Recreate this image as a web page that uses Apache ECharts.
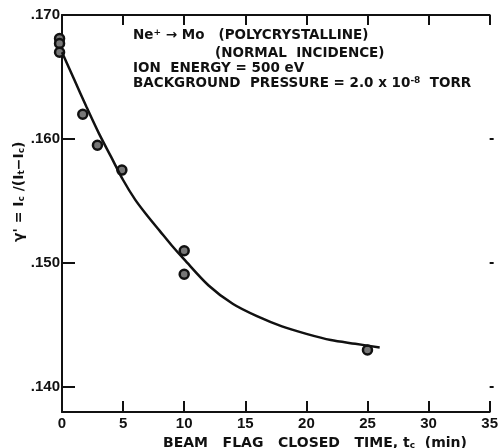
<!DOCTYPE html>
<html>
<head>
<meta charset="utf-8">
<script src="https://cdn.jsdelivr.net/npm/echarts@6/dist/echarts.min.js"></script>
<style>
html,body{margin:0;padding:0;background:#fff;}
#chart{width:501px;height:448px;}
</style>
</head>
<body>
<div id="chart"></div>
<script>
// measured points (t in min, gamma')
var pointT = [-0.2, -0.2, -0.2, 1.7, 2.9, 4.9, 10, 10, 25];
var pointY = [0.1681, 0.1677, 0.1670, 0.1620, 0.1595, 0.1575, 0.1510, 0.1491, 0.1430];
// fitted curve
var curveT = [0, 1, 2, 3, 4, 5, 6, 7, 8, 9, 10, 12, 14, 16, 18, 20, 22, 24, 26];
var curveY = [0.1670, 0.1648, 0.1626, 0.1605, 0.1586, 0.1567, 0.1551, 0.1538, 0.1526, 0.1514, 0.1503,
	0.1482, 0.1467, 0.1457, 0.1449, 0.1443, 0.1438, 0.1435, 0.1432];
var yTicks = [0.140, 0.150, 0.160, 0.170];
var xTicks = [0, 5, 10, 15, 20, 25, 30, 35];

var font = 'Liberation Sans';
var wide = 'DejaVu Sans';
var ink = '#111';

function pairs(xs, ys){
	var out = [];
	for(var i=0;i<xs.length;i++){
		out.push([xs[i], ys[i]]);
	}
	return out;
}

function rich(size){
	return {
		b: {fontFamily: wide, fontWeight: 'bold', fontSize: size, fill: ink},
		s: {fontFamily: wide, fontWeight: 'bold', fontSize: 9, fill: ink, verticalAlign: 'top'},
		d: {fontFamily: wide, fontWeight: 'bold', fontSize: 9, fill: ink, verticalAlign: 'bottom'}
	};
}

function label(x, y, text, size){
	return {type: 'text', left: x, top: y, style: {text: text, rich: rich(size || 13.5)}};
}

var myChart = echarts.init(document.getElementById('chart'));
var option = {
	animation: false,
	backgroundColor: '#fff',
	grid: {left: 62, right: 4, top: 15, bottom: 36},
	xAxis: [{
		type: 'value', min: 0, max: 35, interval: 5, position: 'bottom',
		axisLine: {onZero: false, lineStyle: {color: ink, width: 2}},
		axisTick: {show: true, inside: true, length: 11, lineStyle: {color: ink, width: 2}},
		axisLabel: {color: ink, fontFamily: font, fontWeight: 'bold', fontSize: 15, margin: 4},
		splitLine: {show: false}
	},{
		type: 'value', min: 0, max: 35, interval: 5, position: 'top', z: 10,
		axisLine: {show: true, onZero: false, lineStyle: {color: ink, width: 2}},
		axisTick: {show: true, inside: false, length: -10, lineStyle: {color: ink, width: 2}},
		axisLabel: {show: false},
		splitLine: {show: false}
	}],
	yAxis: [{
		type: 'value', min: 0.138, max: 0.170, position: 'left',
		axisLine: {onZero: false, lineStyle: {color: ink, width: 2}},
		axisTick: {inside: true, length: 13, customValues: yTicks, lineStyle: {color: ink, width: 2}},
		axisLabel: {
			customValues: yTicks, color: ink, fontFamily: font, fontWeight: 'bold', fontSize: 15, margin: 2,
			formatter: function(v){ return v.toFixed(3).replace('0.', '.'); }
		},
		splitLine: {show: false}
	},{
		type: 'value', min: 0.138, max: 0.170, position: 'right',
		axisLine: {show: false, onZero: false},
		axisTick: {show: true, inside: false, length: 4, customValues: [0.140, 0.150, 0.160], lineStyle: {color: ink, width: 2}},
		axisLabel: {show: false},
		splitLine: {show: false}
	}],
	graphic: [
		label(133, 28, '{b|Ne}{s|+}{b| → Mo   (POLYCRYSTALLINE)}'),
		label(215, 46, '{b|(NORMAL  INCIDENCE)}'),
		label(133, 61, '{b|ION  ENERGY = 500 eV}'),
		label(133, 76, '{b|BACKGROUND  PRESSURE = 2.0 x 10}{s|-8}{b|  TORR}'),
		label(163, 436, '{b|BEAM   FLAG   CLOSED   TIME, t}{d|c}{b|  (min)}', 14),
		{
			type: 'text', x: 12, y: 242, rotation: Math.PI / 2,
			style: {text: "{b|γ' = I}{d|c}{b| /(I}{d|t}{b|−I}{d|c}{b|)}", rich: rich(14)}
		}
	],
	series: [{
		type: 'line',
		xAxisIndex: 1,
		yAxisIndex: 1,
		data: pairs(curveT, curveY),
		smooth: 0.3,
		showSymbol: false,
		lineStyle: {color: ink, width: 2.5}
	},{
		type: 'scatter',
		xAxisIndex: 0,
		yAxisIndex: 0,
		data: pairs(pointT, pointY),
		clip: false,
		symbol: 'circle',
		symbolSize: 9,
		itemStyle: {color: '#777', borderColor: ink, borderWidth: 2.5, opacity: 1}
	}]
};
myChart.setOption(option);
</script>
</body>
</html>
